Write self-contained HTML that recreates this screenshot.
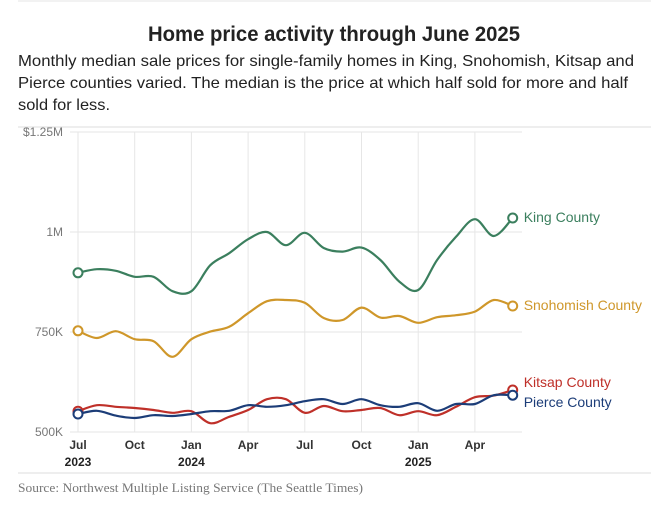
<!DOCTYPE html>
<html><head><meta charset="utf-8"><style>
html,body{margin:0;padding:0;background:#fff;}
svg{display:block;font-family:"Liberation Sans",sans-serif;}
</style></head><body>
<svg width="667" height="513" viewBox="0 0 667 513">
<line x1="18" y1="1" x2="651" y2="1" stroke="#e4e4e4"/>
<text x="334" y="41" text-anchor="middle" font-size="21" font-weight="bold" fill="#222" textLength="372" lengthAdjust="spacingAndGlyphs">Home price activity through June 2025</text>
<g font-size="16" fill="#222">
<text x="18" y="66" textLength="616" lengthAdjust="spacingAndGlyphs">Monthly median sale prices for single-family homes in King, Snohomish, Kitsap and</text>
<text x="18" y="88" textLength="610" lengthAdjust="spacingAndGlyphs">Pierce counties varied. The median is the price at which half sold for more and half</text>
<text x="18" y="110" textLength="92" lengthAdjust="spacingAndGlyphs">sold for less.</text>
</g>
<line x1="18" y1="127" x2="651" y2="127" stroke="#ddd"/>
<g id="grid"></g><g id="axes"></g><g id="series"></g>
<line x1="18" y1="473" x2="651" y2="473" stroke="#ddd"/>
<text x="18" y="492" font-family="Liberation Serif,serif" font-size="13" fill="#777" textLength="345" lengthAdjust="spacingAndGlyphs">Source: Northwest Multiple Listing Service (The Seattle Times)</text>
</svg>
<script>
const yTicks=[500,750,1000,1250];
const yTickLabels=["500K","750K","1M","$1.25M"];
const xTickIdx=[0,3,6,9,12,15,18,21];
const xTickLabels=["Jul","Oct","Jan","Apr","Jul","Oct","Jan","Apr"];
const xYearLabels=["2023","","2024","","","","2025",""];
const seriesNames=["King County","Snohomish County","Kitsap County","Pierce County"];
const king=[898,907,903,888,888,852,852,917,947,982,1000,967,998,960,951,961,930,876,855,930,988,1032,990,1035];
const snohomish=[753,735,752,732,727,688,732,751,763,797,827,830,823,785,780,811,786,790,773,787,792,801,830,815];
const kitsap=[552,567,563,560,555,548,552,522,538,555,582,582,548,565,552,555,560,542,552,542,563,587,591,605];
const pierce=[545,553,541,535,542,540,545,552,553,567,563,567,577,582,570,582,567,563,572,553,570,570,592,592];
const colors=["#3b7f5e","#cf972a","#bf3029","#1c3d78"];
const labelY=[222,310,387,407];
const X=i=>78+i*18.9;
const Y=v=>432-(v-500)*0.4;
const NS="http://www.w3.org/2000/svg";
function mk(tag,attrs,parent){const e=document.createElementNS(NS,tag);for(const k in attrs)e.setAttribute(k,attrs[k]);parent.appendChild(e);return e;}
const grid=document.getElementById('grid'),axes=document.getElementById('axes'),ser=document.getElementById('series');
yTicks.forEach((t,i)=>{
 const l=mk('line',{x1:70,x2:522,y1:Y(t),y2:Y(t),stroke:'#e6e6e6'},grid);
 
 
 const tx=mk('text',{x:63,y:Y(t)+4,'text-anchor':'end','font-size':12,fill:'#777'},axes);
 tx.textContent=yTickLabels[i];
 
 
});
xTickIdx.forEach((m,i)=>{
 const l=mk('line',{x1:X(m),x2:X(m),y1:Y(1250),y2:Y(500),stroke:'#e6e6e6'},grid);
 
 
 const tx=mk('text',{x:X(m),y:449,'text-anchor':'middle','font-size':12,'font-weight':'bold',fill:'#333'},axes);
 tx.textContent=xTickLabels[i];
 
 
 if(xYearLabels[i]){
  const ty=mk('text',{x:X(m),y:466,'text-anchor':'middle','font-size':12,'font-weight':'bold',fill:'#222'},axes);
  ty.textContent=xYearLabels[i];
  
  
 }
});
function smooth(vals){
 const p=vals.map((v,i)=>[X(i),Y(v)]);
 let d='M'+p[0][0]+','+p[0][1];
 for(let i=0;i<p.length-1;i++){
  const p0=p[i-1]||p[i],p1=p[i],p2=p[i+1],p3=p[i+2]||p2;
  const c1=[p1[0]+(p2[0]-p0[0])/6,p1[1]+(p2[1]-p0[1])/6];
  const c2=[p2[0]-(p3[0]-p1[0])/6,p2[1]-(p3[1]-p1[1])/6];
  d+='C'+c1+' '+c2+' '+p2;
 }
 return d;
}
[king,snohomish,kitsap,pierce].forEach((vals,s)=>{
 const path=mk('path',{d:smooth(vals),fill:'none',stroke:colors[s],'stroke-width':2.2,'stroke-linejoin':'round'},ser);
 
 
 [0,vals.length-1].forEach(i=>{
  const c=mk('circle',{cx:X(i),cy:Y(vals[i]),r:4.5,fill:'#fff',stroke:colors[s],'stroke-width':2},ser);
  
  
 });
 const t=mk('text',{x:X(vals.length-1)+11,y:labelY[s],'font-size':14,fill:colors[s]},ser);
 t.textContent=seriesNames[s];
 
 
});
</script>
</body></html>
